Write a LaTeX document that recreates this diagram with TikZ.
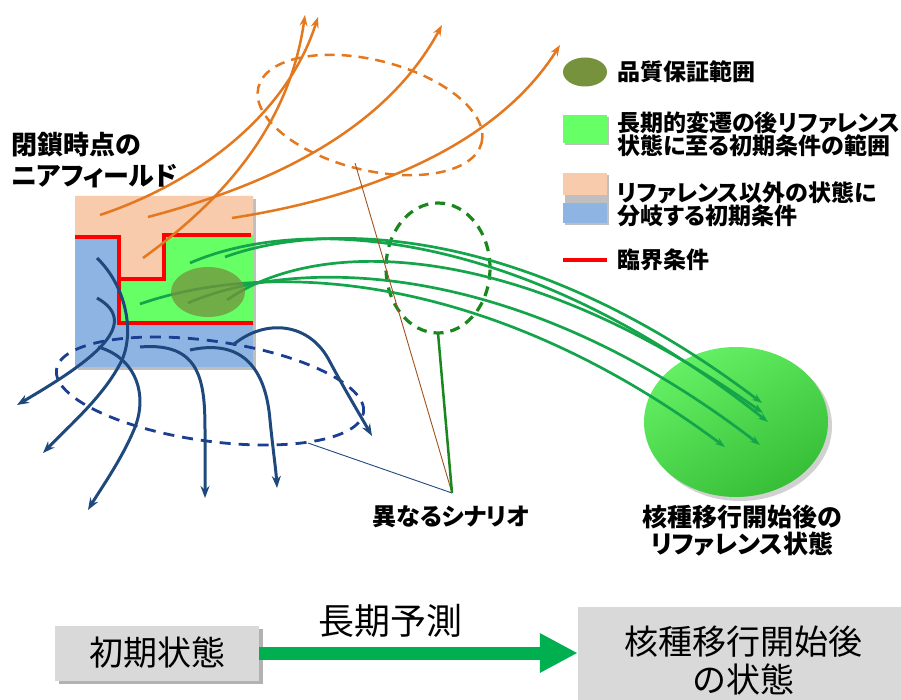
\documentclass[tikz,border=0pt]{standalone}
\usepackage{fontspec}
\newfontfamily\jp[RawFeature=+palt]{Noto Sans CJK JP}
\newfontfamily\jpn{Noto Sans CJK JP}
\usetikzlibrary{arrows.meta}
\definecolor{peach}{RGB}{248,203,173}
\definecolor{lblue}{RGB}{141,180,226}
\definecolor{lgreen}{RGB}{102,255,102}
\definecolor{qa}{RGB}{118,146,60}
\definecolor{orng}{RGB}{228,120,30}
\definecolor{navy}{RGB}{31,73,125}
\definecolor{sgreen}{RGB}{20,165,75}
\definecolor{dgreen}{RGB}{25,135,30}
\definecolor{bigA}{RGB}{100,240,100}
\definecolor{bigB}{RGB}{55,190,55}
\definecolor{arrowgreen}{RGB}{0,176,80}
\definecolor{boxgray}{RGB}{217,217,217}
\definecolor{leaderbrown}{RGB}{160,82,30}
\begin{document}
\begin{tikzpicture}[x=1pt,y=-1pt,
  orangearrow/.style={draw=orng, line width=2.5pt, -{Stealth[length=11pt,width=8pt]}},
  navyarrow/.style={draw=navy, line width=3pt, -{Stealth[length=12pt,width=9pt]}},
  greenarrow/.style={draw=sgreen, line width=2.7pt, -{Stealth[length=10pt,width=7pt]}},
  shadowfill/.style={fill=black, opacity=0.25},
  legendtext/.style={font=\jp\bfseries\fontsize{23}{23}\selectfont, anchor=west, align=left, inner sep=0pt},
  boldlabel/.style={font=\jp\bfseries\fontsize{25}{28}\selectfont, align=center, inner sep=0pt},
  redline/.style={draw=red, line width=3.2pt}]
\useasboundingbox (0,0) rectangle (901,700);

% ---------- big reference-state ellipse ----------
\fill[black, opacity=0.18] (740,426) ellipse [x radius=92pt, y radius=75pt];
\shade[shading=axis, top color=bigA, bottom color=bigB, shading angle=30] (736,422) ellipse [x radius=92pt, y radius=75pt];

% ---------- near-field box ----------
\fill[shadowfill] (78,199) rectangle (256,370);
\fill[lblue] (75,196) rectangle (253,367);
\fill[peach] (75,196) -- (253,196) -- (253,235) -- (164,235) -- (164,279) -- (119,279) -- (119,237) -- (75,237) -- cycle;
\fill[lgreen] (119,279) -- (164,279) -- (164,235) -- (253,235) -- (253,323) -- (119,323) -- cycle;
\draw[redline] (75,237) -- (119,237) -- (119,323) -- (253,323);
\draw[redline] (119,279) -- (164,279) -- (164,235) -- (251,235);

% ---------- dashed scenario ellipses ----------
\draw[orng, line width=2.5pt, dash pattern=on 10pt off 7pt, rotate around={-14:(370,115)}] (370,115) ellipse [x radius=115pt, y radius=55pt];
\draw[navy!85!blue, line width=2.8pt, dash pattern=on 11pt off 8pt, rotate around={-8:(210,391)}] (210,391) ellipse [x radius=155pt, y radius=50pt];
\draw[dgreen, line width=3.2pt, dash pattern=on 10pt off 7pt] (438,268) ellipse [x radius=52pt, y radius=65pt];

% ---------- orange trajectories ----------
\coordinate (o1s) at (100,215); \coordinate (o1e) at (318,17);
\coordinate (o2s) at (143,258); \coordinate (o2e) at (305,15);
\coordinate (o3s) at (148,217); \coordinate (o3e) at (442,25);
\coordinate (o4s) at (232,218); \coordinate (o4e) at (560,45);
\draw[orangearrow] (o1s) .. controls (190,185) and (285,120) .. (o1e);
\draw[orangearrow] (o2s) .. controls (230,195) and (290,120) .. (o2e);
\draw[orangearrow] (o3s) .. controls (250,190) and (380,140) .. (o3e);
\draw[orangearrow] (o4s) .. controls (380,195) and (500,140) .. (o4e);

% ---------- green trajectories ----------
\coordinate (g1s) at (225,257); \coordinate (g1e) at (762,403);
\coordinate (g2s) at (190,263); \coordinate (g2e) at (768,422);
\coordinate (g3s) at (227,300); \coordinate (g3e) at (763,413);
\coordinate (g4s) at (188,303); \coordinate (g4e) at (760,445);
\coordinate (g5s) at (140,304); \coordinate (g5e) at (725,447);
\draw[greenarrow] (g1s) .. controls (320,222) and (520,220) .. (g1e);
\draw[greenarrow] (g2s) .. controls (300,215) and (520,225) .. (g2e);
\draw[greenarrow] (g3s) .. controls (320,235) and (520,240) .. (g3e);
\draw[greenarrow] (g4s) .. controls (300,255) and (520,260) .. (g4e);
\draw[greenarrow] (g5s) .. controls (260,262) and (480,265) .. (g5e);

% quality assurance ellipse
\fill[qa, opacity=0.75] (208,292) ellipse [x radius=37pt, y radius=25pt];

% ---------- blue trajectories ----------
\draw[navyarrow] (97,298) .. controls (145,325) and (85,365) .. (17,405);
\draw[navyarrow] (97,258) .. controls (125,285) and (135,330) .. (122,360) .. controls (105,395) and (70,425) .. (43,453);
\draw[navyarrow] (98,347) .. controls (135,357) and (150,395) .. (133,432) .. controls (120,462) and (100,490) .. (88,510);
\draw[navyarrow] (140,347) .. controls (200,342) and (205,380) .. (205,430) -- (205,498);
\draw[navyarrow] (190,350) .. controls (245,338) and (266,372) .. (270,420) .. controls (273,450) and (276,470) .. (277,488);
\draw[navyarrow] (233,345) .. controls (265,318) and (310,322) .. (330,362) .. controls (345,390) and (360,415) .. (372,436);

% ---------- scenario label and leaders ----------
\node[boldlabel, font=\jp\bfseries\fontsize{24}{28}\selectfont] (scen) at (451,517) {異なるシナリオ};
\coordinate (sc) at (452,493);
\coordinate (oleader) at (355,163);
\coordinate (bleader) at (308,443);
\coordinate (gleader) at (438,333);
\draw[leaderbrown, line width=0.9pt] (oleader) -- (sc);
\draw[navy, line width=0.9pt] (bleader) -- (sc);
\draw[dgreen, line width=2.5pt] (gleader) -- (sc);

% ---------- other labels ----------
\node[anchor=north west, align=left, inner sep=0pt, font=\jp\bfseries\fontsize{26}{31}\selectfont] (title) at (11,132) {閉鎖時点の\\ニアフィールド};
\node[boldlabel, font=\jp\bfseries\fontsize{25}{27}\selectfont] (refst) at (742,531) {核種移行開始後の\\リファレンス状態};

% ---------- legend ----------
\fill[qa] (585,72) ellipse [x radius=22pt, y radius=14.5pt];
\node[legendtext] (l1) at (617,72) {品質保証範囲};
\fill[shadowfill] (565,117) rectangle (609,145);
\fill[lgreen] (563,115) rectangle (607,143);
\node[legendtext] (l2) at (617,134) {長期的変遷の後リファレンス\\状態に至る初期条件の範囲};
\fill[shadowfill] (565,175) rectangle (609,225);
\fill[peach] (563,173) rectangle (607,195);
\fill[lblue] (563,203) rectangle (607,223);
\node[legendtext] (l3) at (617,204) {リファレンス以外の状態に\\分岐する初期条件};
\draw[redline] (563,260) -- (607,260);
\node[legendtext] (l4) at (617,260) {臨界条件};

% ---------- bottom flow ----------
\fill[black, opacity=0.3] (59,629) rectangle (263,684);
\node[fill=boxgray, minimum width=204pt, minimum height=55pt, inner sep=0pt, font=\jpn\fontsize{34}{38}\selectfont] (init) at (157,653) {初期状態};
\fill[black, opacity=0.3] (581,610) rectangle (910,720);
\node[fill=boxgray, minimum width=330pt, minimum height=108pt, inner sep=0pt, align=center, font=\jpn\fontsize{34}{38}\selectfont] (final) at (743,661) {核種移行開始後\\の状態};
\draw[arrowgreen, line width=13pt, -{Triangle[length=38pt,width=37pt]}] (init.east) -- (init.east -| final.west);
\node[font=\jpn\fontsize{36}{40}\selectfont, inner sep=0pt] (lp) at (390,621) {長期予測};
\end{tikzpicture}
\end{document}
